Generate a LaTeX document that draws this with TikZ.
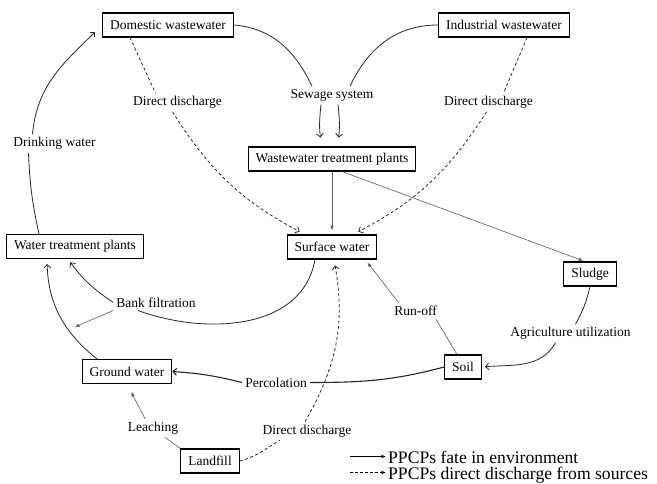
\documentclass[tikz,border=0pt]{standalone}
\usepackage{fontspec}
\setmainfont{Liberation Serif}
\usetikzlibrary{arrows.meta}
\newcommand\lblfont{\fontsize{13.5}{15}\selectfont}
\newcommand\keyfont{\fontsize{17.6}{19}\selectfont}
\tikzstyle{box}=[draw,line width=1.1pt,inner xsep=7.5pt,inner ysep=0pt,minimum height=24pt,font=\lblfont]
\tikzstyle{lbl}=[inner sep=3pt,font=\lblfont]
\tikzstyle{flow}=[line width=.8pt,draw=black!85,>={Straight Barb[length=3.5pt,width=7pt]}]
\tikzstyle{side}=[line width=.6pt,draw=black!65,>={Latex[length=4.5pt,width=3.5pt]}]
\tikzstyle{direct}=[flow,dash pattern=on 3pt off 2.5pt]

\begin{document}
\begin{tikzpicture}[x=1pt,y=1pt]
	\useasboundingbox (0,0) rectangle (657,484);
	\node[box] (dom)    at (168,459)   {Domestic wastewater};
	\node[box] (ind)    at (504,459)   {Industrial wastewater};
	\node[box] (wwtp)   at (332,325)   {Wastewater treatment plants};
	\node[box] (sw)     at (332,237)   {Surface water};
	\node[box] (wtp)    at (75,237.5)  {Water treatment plants};
	\node[box] (sludge) at (590,210)   {Sludge};
	\node[box] (soil)   at (463,117)   {Soil};
	\node[box] (gw)     at (127,112.5) {Ground water};
	\node[box] (land)   at (210,23)    {Landfill};
	% pathway labels
	\node[lbl] (sew)    at (332,388.5) {Sewage system};
	\node[lbl] (dd1)    at (177.5,381.5) {Direct discharge};
	\node[lbl] (dd2)    at (488.5,381.5) {Direct discharge};
	\node[lbl] (drink)  at (54.5,340.5) {Drinking water};
	\node[lbl] (bank)   at (156,181.5) {Bank filtration};
	\node[lbl] (runoff) at (415.5,173) {Run-off};
	\node[lbl] (agri)   at (570.5,150.5) {Agriculture utilization};
	\node[lbl] (perc)   at (276,101.5) {Percolation};
	\node[lbl] (leach)  at (153,56)    {Leaching};
	\node[lbl] (dd3)    at (307,53)    {Direct discharge};
	\coordinate (bk) at (75,157);
	% legend
	\coordinate (k1) at (350,27.5);
	\coordinate (k2) at (350,11.5);
	\node[anchor=base west,inner sep=0pt,font=\keyfont] (key1) at (388,20.5) {PPCPs fate in environment};
	\node[anchor=base west,inner sep=0pt,font=\keyfont] (key2) at (388,4.2) {PPCPs direct discharge from sources};

	\draw[flow] (dom.east) to[out=-5,in=115] ([xshift=-20pt]sew.north);
	\draw[flow,->,shorten >=9pt] ([xshift=-11pt]sew.south) to[bend right=8] ([xshift=-10pt]wwtp.north);
	\draw[flow] (ind.west) to[out=180,in=65] ([xshift=18pt]sew.north);
	\draw[flow,->,shorten >=9pt] ([xshift=6pt]sew.south) to[bend left=8] ([xshift=5pt]wwtp.north);
	\draw[direct] ([xshift=-38pt]dom.south) -- ([xshift=-22pt]dd1.north);
	\draw[direct,->,shorten >=6pt] ([xshift=-5pt]dd1.south) to[bend right=15] ([xshift=-27pt]sw.north);
	\draw[direct] ([xshift=23pt]ind.south) -- ([xshift=15pt]dd2.north);
	\draw[direct,->,shorten >=6pt] ([xshift=-2pt]dd2.south) to[bend left=15] ([xshift=21pt]sw.north);
	\draw[side,->,shorten >=4pt] (wwtp) -- (sw);
	\draw[side,->,shorten >=2pt] ([xshift=10pt]wwtp.south) -- ([xshift=-5pt]sludge.north);
	\draw[flow] (sludge.south) to[bend left=8] ([xshift=5pt]agri.north);
	\draw[flow,->,shorten >=3pt] ([xshift=-15pt]agri.south) to[out=-120,in=5] (soil.east);
	\draw[side] ([xshift=-6pt]soil.north) -- ([xshift=-4pt]runoff.south east);
	\draw[side,->,shorten >=4pt] ([xshift=8pt]runoff.north west) -- ([xshift=33pt]sw.south);
	\draw[flow,line width=1.1pt] (soil.west) to[out=195,in=0] (perc.east);
	\draw[flow,line width=1.1pt,->] (perc.west) to[bend right=5] (gw.east);
	\draw[flow] ([xshift=-17pt]sw.south) to[out=-100,in=-20] ([xshift=-18pt]bank.south);
	\draw[flow,->,shorten >=4pt] (bank.west) to[bend left=10] ([xshift=-7pt]wtp.south);
	\draw[side,->] (bank.south west) -- (bk);
	\draw[flow,->,shorten >=5pt] ([xshift=-30pt]gw.north) to[bend left=25] ([xshift=-28pt]wtp.south);
	\draw[flow] ([xshift=-36pt]wtp.north) to[bend left=5] ([xshift=-26pt]drink.south);
	\draw[flow,->,shorten >=10pt] ([xshift=-22pt]drink.north) to[out=85,in=-135] (dom.west);
	\draw[side] (land.north west) -- ([xshift=12pt]leach.south);
	\draw[side,->,shorten >=9pt] ([xshift=-8pt]leach.north) -- (gw.south);
	\draw[direct] (land.east) to[out=15,in=210] ([xshift=-27pt]dd3.south);
	\draw[direct,->,shorten >=6pt] ([xshift=-2pt]dd3.north) to[out=60,in=-80] ([xshift=2pt]sw.south);
	\draw[side,draw=black,->,shorten >=2pt] (k1) -- (k1 -| key1.west);
	\draw[side,draw=black,->,shorten >=2pt,dash pattern=on 3pt off 2pt] (k2) -- (k2 -| key2.west);
\end{tikzpicture}
\end{document}
